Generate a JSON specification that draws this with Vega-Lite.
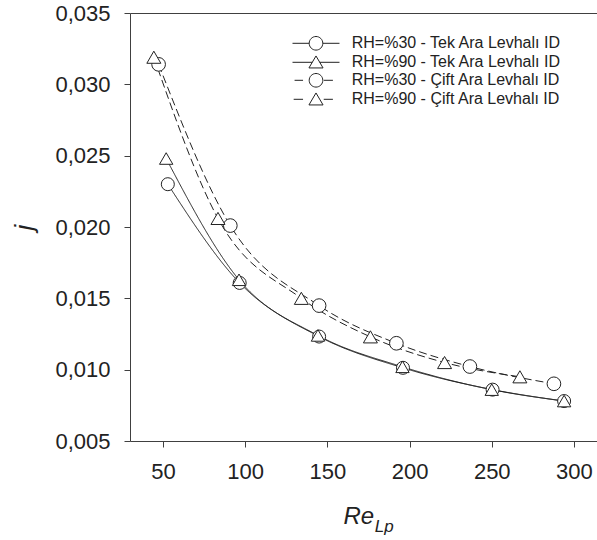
{
  "$schema": "https://vega.github.io/schema/vega-lite/v6.json",
  "width": 467,
  "height": 428,
  "autosize": "none",
  "padding": {"left": 130, "top": 13, "right": 0, "bottom": 99},
  "background": "white",
  "data": {
    "values": [
      {"series": "RH=%30 - Tek Ara Levhalı ID", "Re": 53, "j": 0.0230},
      {"series": "RH=%30 - Tek Ara Levhalı ID", "Re": 96.7, "j": 0.01608},
      {"series": "RH=%30 - Tek Ara Levhalı ID", "Re": 145, "j": 0.01232},
      {"series": "RH=%30 - Tek Ara Levhalı ID", "Re": 196, "j": 0.01013},
      {"series": "RH=%30 - Tek Ara Levhalı ID", "Re": 250.5, "j": 0.0086},
      {"series": "RH=%30 - Tek Ara Levhalı ID", "Re": 294, "j": 0.0078},
      {"series": "RH=%90 - Tek Ara Levhalı ID", "Re": 52, "j": 0.0248},
      {"series": "RH=%90 - Tek Ara Levhalı ID", "Re": 96.3, "j": 0.0163},
      {"series": "RH=%90 - Tek Ara Levhalı ID", "Re": 144.3, "j": 0.0124},
      {"series": "RH=%90 - Tek Ara Levhalı ID", "Re": 195.7, "j": 0.0102},
      {"series": "RH=%90 - Tek Ara Levhalı ID", "Re": 250, "j": 0.0086},
      {"series": "RH=%90 - Tek Ara Levhalı ID", "Re": 294, "j": 0.0078},
      {"series": "RH=%30 - Çift Ara Levhalı ID", "Re": 47.4, "j": 0.0314},
      {"series": "RH=%30 - Çift Ara Levhalı ID", "Re": 91, "j": 0.0201},
      {"series": "RH=%30 - Çift Ara Levhalı ID", "Re": 145, "j": 0.01449},
      {"series": "RH=%30 - Çift Ara Levhalı ID", "Re": 192, "j": 0.01185},
      {"series": "RH=%30 - Çift Ara Levhalı ID", "Re": 236.7, "j": 0.01022},
      {"series": "RH=%30 - Çift Ara Levhalı ID", "Re": 287.8, "j": 0.00901},
      {"series": "RH=%90 - Çift Ara Levhalı ID", "Re": 44.5, "j": 0.0319},
      {"series": "RH=%90 - Çift Ara Levhalı ID", "Re": 83.5, "j": 0.0206},
      {"series": "RH=%90 - Çift Ara Levhalı ID", "Re": 134.2, "j": 0.0150},
      {"series": "RH=%90 - Çift Ara Levhalı ID", "Re": 176.2, "j": 0.0123},
      {"series": "RH=%90 - Çift Ara Levhalı ID", "Re": 221.3, "j": 0.0105},
      {"series": "RH=%90 - Çift Ara Levhalı ID", "Re": 267.1, "j": 0.0095}
    ]
  },
  "layer": [
    {
      "mark": {"type": "line", "interpolate": "monotone", "color": "#222", "strokeWidth": 1},
      "encoding": {
        "x": {
          "field": "Re", "type": "quantitative",
          "scale": {"domain": [30, 314], "nice": false, "zero": false},
          "axis": {
            "values": [50, 100, 150, 200, 250, 300],
            "grid": false, "tickSize": 6, "tickColor": "#404040", "domainColor": "#404040",
            "labelFont": "Liberation Sans", "labelFontSize": 22, "labelColor": "#222", "labelPadding": 14,
            "title": "Re", "titleFont": "Liberation Sans", "titleFontStyle": "italic", "titleFontWeight": "normal",
            "titleFontSize": 24, "titleColor": "#222", "titleAlign": "left", "titleBaseline": "alphabetic",
            "titleAngle": 0, "titleX": 213, "titleY": 82.6
          }
        },
        "y": {
          "field": "j", "type": "quantitative",
          "scale": {"domain": [0.005, 0.035], "nice": false, "zero": false},
          "axis": {
            "values": [0.005, 0.01, 0.015, 0.02, 0.025, 0.03, 0.035],
            "labelExpr": "replace(format(datum.value, '.3f'), '.', ',')",
            "grid": false, "tickSize": 6, "tickColor": "#404040", "domainColor": "#404040",
            "labelFont": "Liberation Sans", "labelFontSize": 22, "labelColor": "#222", "labelPadding": 14,
            "title": "j", "titleFont": "Liberation Sans", "titleFontStyle": "italic", "titleFontWeight": "normal",
            "titleFontSize": 26, "titleColor": "#222", "titleAlign": "center", "titleBaseline": "alphabetic",
            "titleAngle": -90, "titleX": -98, "titleY": 214
          }
        },
        "strokeDash": {
          "field": "series", "type": "nominal",
          "scale": {
            "domain": ["RH=%30 - Tek Ara Levhalı ID", "RH=%90 - Tek Ara Levhalı ID", "RH=%30 - Çift Ara Levhalı ID", "RH=%90 - Çift Ara Levhalı ID"],
            "range": [[1, 0], [1, 0], [8, 4], [8, 4]]
          },
          "legend": null
        }
      }
    },
    {
      "mark": {"type": "point", "filled": true, "fill": "white", "stroke": "#222", "strokeWidth": 1, "opacity": 1},
      "encoding": {
        "x": {
          "field": "Re", "type": "quantitative",
          "axis": {"orient": "top", "domain": true, "domainColor": "#404040", "ticks": false, "labels": false, "grid": false, "title": null}
        },
        "y": {"field": "j", "type": "quantitative"},
        "shape": {
          "field": "series", "type": "nominal",
          "scale": {
            "domain": ["RH=%30 - Tek Ara Levhalı ID", "RH=%90 - Tek Ara Levhalı ID", "RH=%30 - Çift Ara Levhalı ID", "RH=%90 - Çift Ara Levhalı ID"],
            "range": ["circle", "triangle-up", "circle", "triangle-up"]
          },
          "legend": null
        },
        "size": {
          "field": "series", "type": "ordinal",
          "scale": {
            "domain": ["RH=%30 - Tek Ara Levhalı ID", "RH=%90 - Tek Ara Levhalı ID", "RH=%30 - Çift Ara Levhalı ID", "RH=%90 - Çift Ara Levhalı ID"],
            "range": [169, 196, 169, 196]
          },
          "legend": null
        }
      }
    },
    {
      "transform": [{"filter": "datum.j < 0"}],
      "mark": {"type": "point", "filled": true, "fill": "white", "stroke": "#222", "strokeWidth": 1, "size": 324},
      "encoding": {
        "x": {
          "field": "Re", "type": "quantitative",
          "axis": {
            "orient": "bottom", "domain": false, "ticks": false, "labels": false, "grid": false,
            "title": "Lp", "titleFont": "Liberation Sans", "titleFontStyle": "italic", "titleFontWeight": "normal",
            "titleFontSize": 17, "titleColor": "#222", "titleAlign": "left", "titleBaseline": "alphabetic",
            "titleAngle": 0, "titleX": 244.3, "titleY": 90
          }
        },
        "y": {"field": "j", "type": "quantitative"},
        "shape": {
          "field": "series", "type": "nominal",
          "scale": {
            "domain": ["RH=%30 - Tek Ara Levhalı ID", "RH=%90 - Tek Ara Levhalı ID", "RH=%30 - Çift Ara Levhalı ID", "RH=%90 - Çift Ara Levhalı ID"],
            "range": [
              "M-2.61,0H-0.756M0.756,0H2.61M-0.756,0A0.756,0.756,0,1,0,0.756,0A0.756,0.756,0,1,0,-0.756,0Z",
              "M-2.61,0H-0.418M0.418,0H2.61M0,-0.705L0.783,0.627L-0.783,0.627Z",
              "M-2.38,0H-1.44M0.86,0H1.88M-0.756,0A0.756,0.756,0,1,0,0.756,0A0.756,0.756,0,1,0,-0.756,0Z",
              "M-2.48,0H-1.44M0.86,0H1.88M0,-0.705L0.783,0.627L-0.783,0.627Z"
            ]
          },
          "legend": {
            "title": null, "orient": "none", "legendX": 176.5, "legendY": 20.8,
            "rowPadding": 0, "padding": 0,
            "labelFont": "Liberation Sans", "labelFontSize": 16, "labelColor": "#222", "labelOffset": 26.2, "labelLimit": 0,
            "symbolSize": 324, "symbolStrokeWidth": 1, "symbolOpacity": 1,
            "encode": {
              "symbols": {
                "size": {"value": 324},
                "opacity": {"value": 1},
                "fill": {"value": "white"},
                "fillOpacity": {"value": 1},
                "stroke": {"value": "#222"},
                "strokeOpacity": {"value": 1},
                "strokeWidth": {"value": 1}
              }
            }
          }
        }
      }
    }
  ],
  "resolve": {"scale": {"shape": "independent"}, "axis": {"x": "independent"}},
  "config": {
    "view": {"stroke": null},
    "font": "Liberation Sans"
  }
}
